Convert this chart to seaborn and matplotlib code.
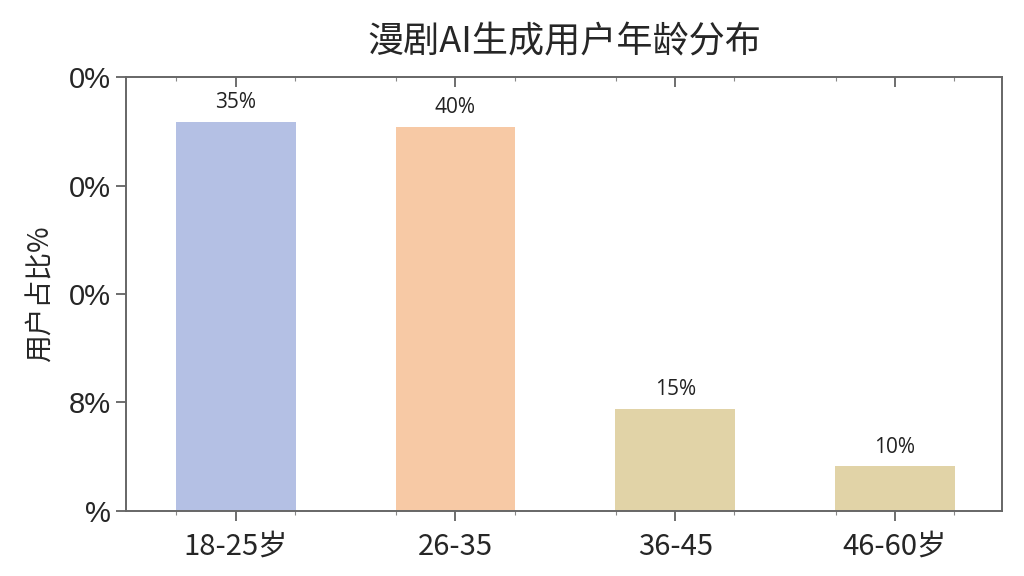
import numpy as np
import pandas as pd
import seaborn as sns
import matplotlib.pyplot as plt
from matplotlib.ticker import FixedLocator

# data
age_groups = ['18-25岁', '26-35', '36-45', '46-60岁']
bar_heights = [35.9, 35.4, 9.4, 4.1]          # drawn heights on the 0-40 scale
value_labels = ['35%', '40%', '15%', '10%']   # printed labels above the bars
bar_colors = ['#b4c0e4', '#f7c9a5', '#e1d3a7', '#e1d3a7']
y_ticks = [0, 10, 20, 30, 40]
y_tick_labels = ['%', '8%', '0%', '0%', '0%']

df = pd.DataFrame({'age': age_groups, 'share': bar_heights})

sns.set_theme(style='white')
plt.rcParams['font.family'] = ['Noto Sans CJK SC', 'DejaVu Sans']

fig, ax = plt.subplots(figsize=(10.24, 5.76), dpi=100)
fig.subplots_adjust(left=0.123, right=0.979, top=0.866, bottom=0.113)

sns.barplot(data=df, x='age', y='share', hue='age', palette=bar_colors,
            width=0.545, saturation=1, linewidth=0, legend=False, ax=ax)

for i, (h, lab) in enumerate(zip(bar_heights, value_labels)):
    ax.text(i, h + 0.8, lab, ha='center', va='bottom', fontsize=15,
            color='#222222', family=['Open Sans', 'DejaVu Sans'])

ax.set_xlim(-0.5, 3.49)
ax.set_ylim(0, 40)
ax.set_yticks(y_ticks)
ax.set_yticklabels(y_tick_labels, fontsize=21)
for lbl in ax.get_yticklabels():
    lbl.set_fontfamily(['Liberation Sans', 'DejaVu Sans'])
ax.tick_params(axis='x', labelsize=21, pad=8)
ax.set_xlabel('')
ax.set_ylabel('用户占比%', fontsize=20, labelpad=10)
ax.set_title('漫剧AI生成用户年龄分布', fontsize=26, pad=18)

for s in ax.spines.values():
    s.set_color('#666666')
    s.set_linewidth(1.4)

# minor ticks at bar edges, like the reference
edges = []
for i in range(len(age_groups)):
    edges += [i - 0.27, i + 0.27]
ax.xaxis.set_minor_locator(FixedLocator(edges))
ax.tick_params(axis='x', which='major', direction='out', length=7, width=1.2,
               color='#555555', top=True, bottom=True)
ax.tick_params(axis='x', which='minor', direction='out', length=3, width=0.8,
               color='#888888', top=True, bottom=True)
ax.tick_params(axis='y', which='major', direction='out', length=7, width=1.2,
               color='#555555', left=True, right=False)
for t in ax.xaxis.get_major_ticks() + ax.xaxis.get_minor_ticks():
    t.tick2line.set_marker(3)

plt.savefig('out.png', dpi=100)
